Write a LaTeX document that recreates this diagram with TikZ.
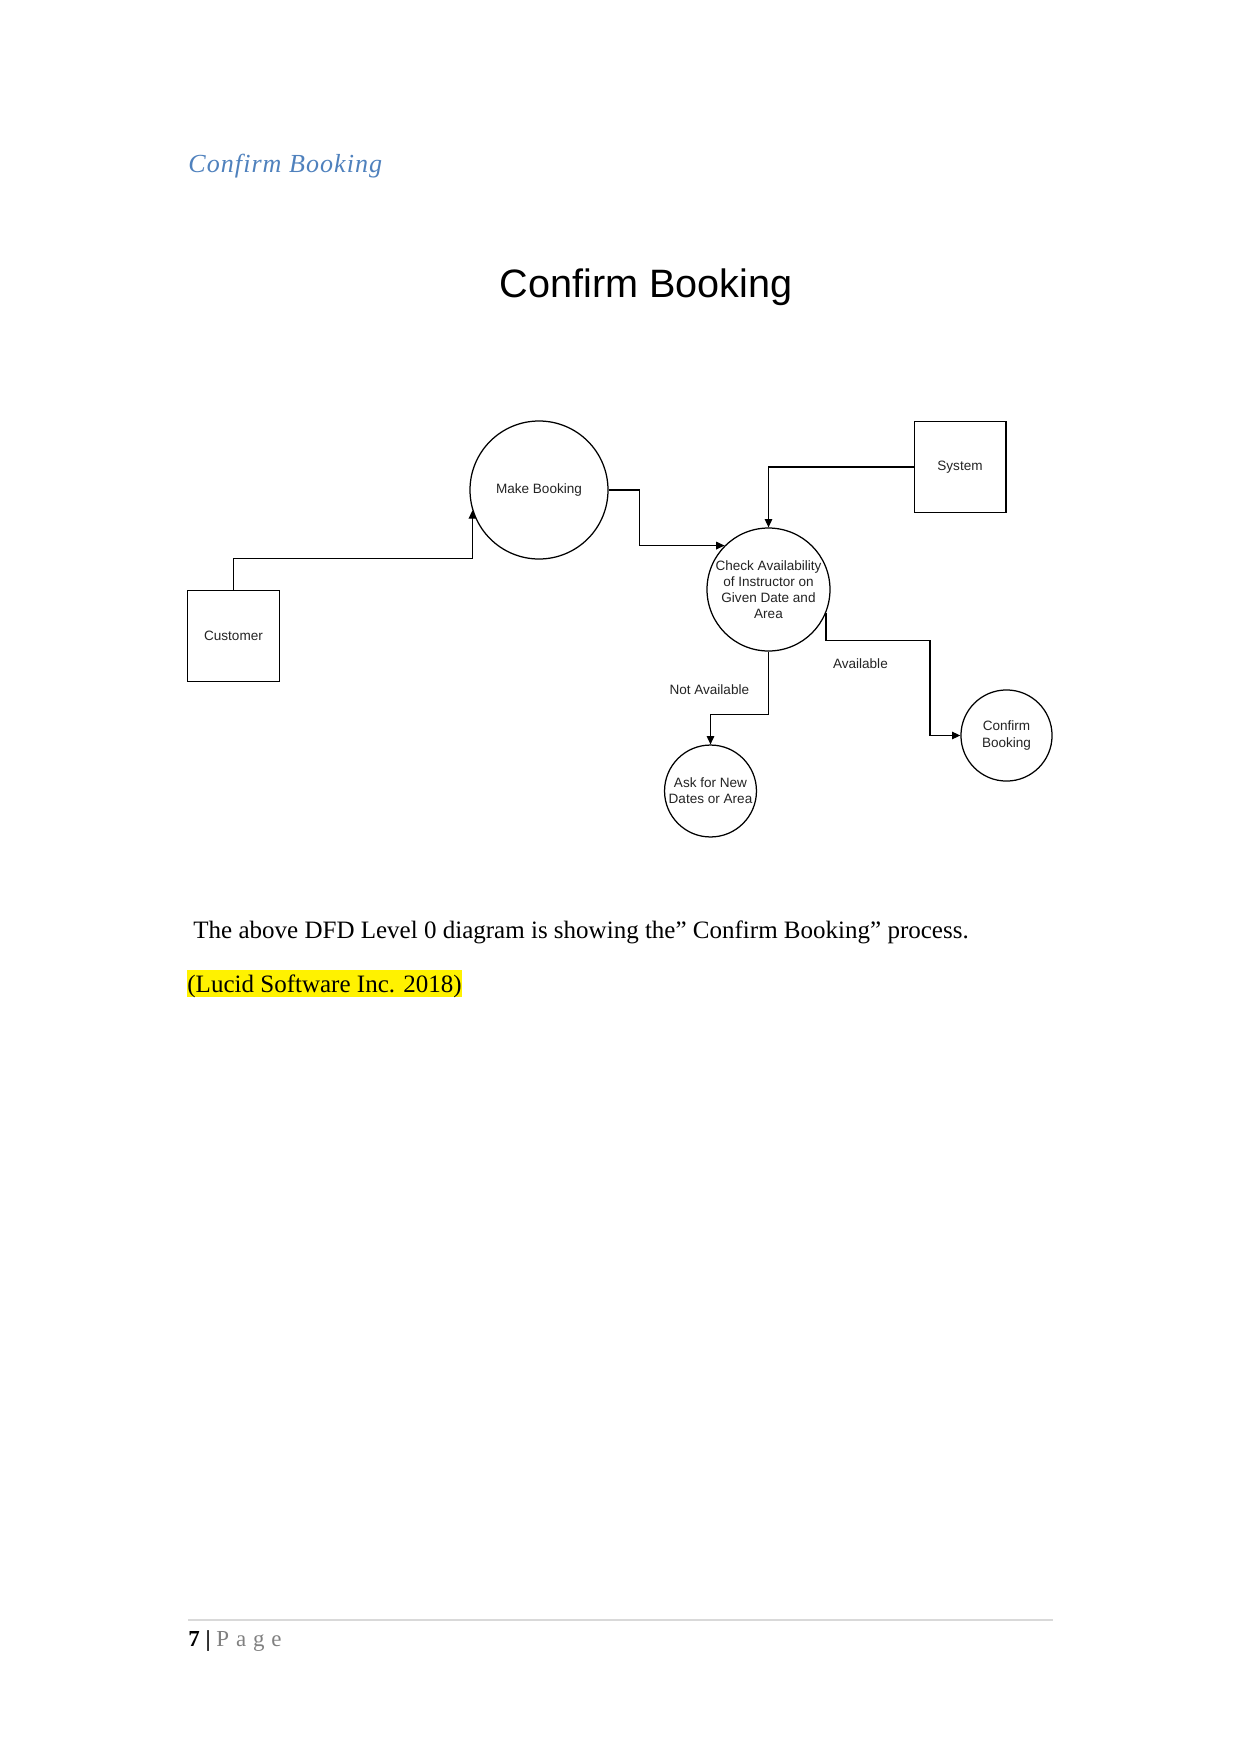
\documentclass[tikz,border=0pt]{standalone}
\usepackage{fontspec}
\setmainfont{Liberation Serif}
\setsansfont{Liberation Sans}
\usetikzlibrary{shapes.geometric, arrows.meta, positioning, calc}
\definecolor{titreblue}{RGB}{79,129,189}
\definecolor{encre}{RGB}{35,35,35}

\begin{document}
\begin{tikzpicture}[
    x=0.4797pt, y=-0.4797pt,
    font=\sffamily,
    >={Triangle[length=4pt, width=3.6pt]},
    % Style des entités externes
    entity/.style={
        rectangle,
        draw=black,
        minimum width=44pt,
        minimum height=44pt,
        line width=0.6pt,
        font=\sffamily\fontsize{6.5}{7.7}\selectfont,
        text=encre
    },
    % Style des processus
    process/.style={
        circle,
        draw=black,
        inner sep=0pt,
        line width=0.6pt,
        align=center,
        font=\sffamily\fontsize{6.5}{7.7}\selectfont,
        text=encre
    },
    flow/.style={->, draw=black, line width=0.6pt},
    flowlabel/.style={
        font=\sffamily\fontsize{6.5}{7.7}\selectfont,
        text=encre,
        inner sep=0pt
    }
]

    \useasboundingbox (0,0) rectangle (1241,1754);

    % --- TITRES ---
    \node[anchor=base west, inner sep=0pt, text=titreblue,
          font=\rmfamily\itshape\fontsize{12.5}{15}\selectfont\addfontfeatures{LetterSpace=4}]
          (heading) at (188,173) {Confirm Booking};
    \node[anchor=base, inner sep=0pt, font=\sffamily\fontsize{19}{23}\selectfont]
          (titre) at (646,297) {Confirm Booking};

    % --- NŒUDS ---
    \node[entity] (customer) at (233.5,636) {Customer};
    \node[process, minimum size=66.2pt] (makebooking) at (539,490) {Make Booking};
    \node[entity] (system) at (960,467) {System};
    \node[process, minimum size=59pt] (check) at (768.5,589.5)
          {Check Availability\\of Instructor on\\Given Date and\\Area};
    \node[process, minimum size=44.1pt] (askdates) at (710.5,791) {Ask for New\\Dates or Area};
    \node[process, minimum size=43.7pt] (confirm) at (1006.5,735.5) {Confirm\\Booking};

    % --- LIAISONS / FLÈCHES ---
    % Customer -> Make Booking
    \draw[flow] (customer.north) -- ++(0,-31) -| (makebooking.197);
    % Make Booking -> Check
    \draw[flow] (makebooking.east) -- ++(31,0) |- (check.135);
    % System -> Check
    \draw[flow] (system.west) -| (check.north);
    % Check -> Ask (non disponible)
    \draw[flow] (check.south) -- node[flowlabel, pos=0.6, left=9pt] {Not Available} ++(0,63) -| (askdates.north);
    % Check -> Confirm (disponible)
    \draw[flow] (check.-22) -- ++(0,28) -- node[flowlabel, pos=0.33, below=8.5pt] {Available} ++(104,0) |- (confirm.west);

    % --- TEXTE ---
    \node[anchor=base west, inner sep=0pt, font=\rmfamily\fontsize{12}{14}\selectfont]
          (phrase) at (193,938) {The above DFD Level 0 diagram is showing the” Confirm Booking” process.};
    \node[anchor=base west, fill=yellow, inner xsep=0pt, inner ysep=0pt,
          text height=10.5pt, text depth=2.5pt, font=\rmfamily\fontsize{12}{14}\selectfont]
          (source) at (187,992) {(Lucid Software Inc. 2018)};

    % Pied de page
    \draw[gray!30, line width=0.6pt] (188,1620) -- (1053,1620);
    \node[anchor=base west, inner sep=0pt, font=\rmfamily\fontsize{11}{13}\selectfont]
          (pied) at (188,1646) {\textbf{7 |} \textcolor{gray}{\addfontfeatures{LetterSpace=30}Page}};

\end{tikzpicture}
\end{document}
